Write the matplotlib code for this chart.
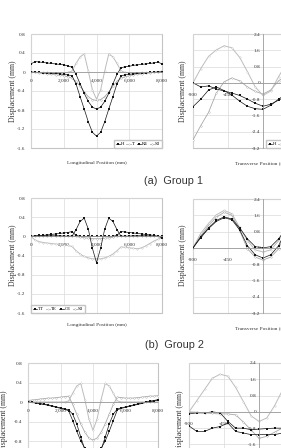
import matplotlib.pyplot as plt
from matplotlib.patches import Rectangle

W, H = 281, 448

# longitudinal stations (mm)
long_x = [0, 250, 500, 750, 1000, 1250, 1500, 1750, 2000, 2250, 2500, 2750, 3000, 3250, 3500, 3750,
          4000, 4250, 4500, 4750, 5000, 5250, 5500, 5750, 6000, 6250, 6500, 6750, 7000, 7250, 7500, 7750, 8000]
# transverse stations (mm)
trans_x = [-900, -800, -700, -600, -500, -400, -300, -200, -100, 0, 100, 200, 300, 400, 500, 600, 700, 800, 900]

# Group 1, longitudinal
g1_H = [0.17, 0.22, 0.21, 0.20, 0.19, 0.18, 0.17, 0.16, 0.15, 0.13, 0.10, -0.05, -0.25, -0.45, -0.62, -0.74,
        -0.78, -0.74, -0.62, -0.45, -0.25, -0.05, 0.09, 0.11, 0.12, 0.14, 0.15, 0.16, 0.17, 0.18, 0.19, 0.21, 0.17]
g1_T = [0.0, 0.0, -0.01, -0.01, -0.01, -0.02, -0.02, -0.02, -0.02, -0.01, 0.02, 0.18, 0.32, 0.38, 0.02, -0.38,
        -0.57, -0.38, 0.02, 0.38, 0.32, 0.18, 0.02, -0.01, -0.02, -0.02, -0.02, -0.01, -0.01, -0.01, 0.0, 0.0, 0.0]
g1_R4 = [0.0, -0.01, -0.01, -0.02, -0.02, -0.03, -0.03, -0.04, -0.05, -0.06, -0.08, -0.25, -0.52, -0.78, -1.05, -1.27,
         -1.35, -1.27, -1.05, -0.78, -0.52, -0.25, -0.08, -0.06, -0.05, -0.04, -0.03, -0.02, -0.02, -0.01, -0.01, 0.0, 0.0]
g1_S3 = [0.0, -0.01, -0.02, -0.03, -0.04, -0.05, -0.06, -0.07, -0.08, -0.10, -0.13, -0.20, -0.30, -0.42, -0.52, -0.58,
         -0.60, -0.58, -0.52, -0.42, -0.30, -0.20, -0.13, -0.10, -0.08, -0.06, -0.05, -0.04, -0.03, -0.02, -0.01, 0.0, 0.02]

# Group 2, longitudinal
g2_TT = [0.0, 0.0, 0.01, 0.01, 0.01, 0.01, 0.01, 0.01, 0.0, 0.0, 0.0, 0.14, 0.31, 0.38, 0.15, -0.25,
         -0.55, -0.25, 0.15, 0.38, 0.31, 0.14, 0.0, 0.0, 0.0, 0.01, 0.01, 0.01, 0.01, 0.01, 0.0, 0.0, 0.0]
g2_TE = [0.0, -0.08, -0.11, -0.13, -0.14, -0.15, -0.16, -0.17, -0.18, -0.19, -0.21, -0.30, -0.37, -0.42, -0.45, -0.47,
         -0.47, -0.47, -0.45, -0.42, -0.37, -0.30, -0.22, -0.23, -0.24, -0.25, -0.26, -0.24, -0.20, -0.15, -0.10, -0.06, -0.03]
g2_CE = [0.0, 0.01, 0.02, 0.02, 0.03, 0.04, 0.05, 0.06, 0.07, 0.08, 0.10, 0.02, 0.0, 0.0, 0.0, 0.0,
         0.0, 0.0, 0.0, 0.0, 0.0, 0.02, 0.10, 0.09, 0.08, 0.07, 0.06, 0.05, 0.04, 0.03, 0.02, 0.0, -0.03]
g2_S3 = [0.0, 0.0, 0.0, 0.01, 0.01, 0.01, 0.01, 0.01, 0.01, 0.01, 0.01, 0.0, -0.02, -0.03, -0.04, -0.05,
         -0.05, -0.05, -0.04, -0.03, -0.02, 0.0, 0.01, 0.01, 0.01, 0.01, 0.01, 0.01, 0.01, 0.0, 0.0, 0.0, 0.0]

# Group 3, longitudinal
g3_A = [0.0, 0.0, 0.0, 0.0, 0.0, 0.0, 0.0, 0.0, 0.0, 0.0, 0.02, 0.18, 0.33, 0.38, 0.05, -0.35,
        -0.58, -0.35, 0.05, 0.38, 0.33, 0.18, 0.02, 0.0, 0.0, 0.0, 0.0, 0.0, 0.0, 0.0, 0.0, 0.0, 0.0]
g3_B = [0.03, 0.04, 0.05, 0.06, 0.07, 0.08, 0.08, 0.09, 0.10, 0.11, 0.12, -0.05, -0.25, -0.45, -0.62, -0.74,
        -0.78, -0.74, -0.62, -0.45, -0.25, -0.05, 0.10, 0.09, 0.08, 0.08, 0.08, 0.09, 0.10, 0.11, 0.12, 0.12, 0.13]
g3_C = [0.0, -0.01, -0.02, -0.04, -0.05, -0.07, -0.09, -0.11, -0.13, -0.15, -0.18, -0.38, -0.60, -0.80, -0.95, -1.03,
        -1.06, -1.03, -0.95, -0.80, -0.60, -0.38, -0.16, -0.13, -0.11, -0.09, -0.07, -0.05, -0.03, -0.01, 0.0, 0.02, 0.04]
g3_D = [0.0, -0.01, -0.02, -0.03, -0.05, -0.06, -0.08, -0.10, -0.12, -0.14, -0.16, -0.25, -0.45, -0.72, -0.98, -1.18,
        -1.25, -1.18, -0.98, -0.72, -0.45, -0.25, -0.14, -0.12, -0.10, -0.08, -0.06, -0.04, -0.02, 0.0, 0.02, 0.03, 0.05]

# transverse profiles
t1_H = [0.0, -0.2, -0.15, -0.3, -0.4, -0.5, -0.62, -0.8, -1.0, -1.15, -1.05, -0.85, -0.65, -0.5, -0.4, -0.3, -0.15, -0.2, 0.0]
t1_T = [0.0, 0.7, 1.3, 1.62, 1.82, 1.72, 1.25, 0.55, -0.2, -0.62, -0.4, 0.3, 0.95, 1.45, 1.75, 1.6, 1.2, 0.6, 0.0]
t1_R4 = [-1.17, -0.8, -0.35, -0.2, -0.38, -0.6, -0.9, -1.15, -1.27, -1.3, -1.1, -0.8, -0.55, -0.4, -0.3, -0.2, -0.35, -0.8, -1.17]
t1_S3 = [-2.8, -2.1, -1.45, -0.5, 0.05, 0.24, 0.1, -0.2, -0.42, -0.55, -0.35, 0.1, 0.35, 0.3, 0.0, -0.5, -1.4, -2.1, -2.8]

t2_TT = [0.0, 0.55, 0.98, 1.35, 1.52, 1.42, 0.98, 0.44, 0.06, 0.0, 0.06, 0.44, 0.98, 1.42, 1.52, 1.35, 0.98, 0.55, 0.0]
t2_TE = [0.0, 0.72, 1.2, 1.62, 1.84, 1.68, 1.0, 0.35, -0.1, -0.2, -0.1, 0.35, 1.0, 1.68, 1.84, 1.62, 1.2, 0.72, 0.0]
t2_CE = [0.0, 0.5, 0.95, 1.3, 1.48, 1.38, 0.88, 0.1, -0.34, -0.5, -0.34, 0.1, 0.88, 1.38, 1.48, 1.3, 0.95, 0.5, 0.0]
t2_S3 = [0.0, 0.6, 1.1, 1.5, 1.75, 1.6, 0.85, -0.05, -0.45, -0.6, -0.45, -0.05, 0.85, 1.6, 1.75, 1.5, 1.1, 0.6, 0.0]

t3_A = [0.0, 0.55, 1.1, 1.65, 1.85, 1.75, 1.2, 0.5, -0.2, -0.47, -0.3, 0.3, 1.05, 1.6, 1.85, 1.65, 1.1, 0.55, 0.0]
t3_B = [0.0, -0.02, -0.05, -0.08, -0.1, -0.1, -0.15, -0.5, -0.9, -1.3, -1.2, -1.0, -0.8, -0.5, -0.15, -0.1, -0.08, -0.05, 0.0]
t3_C = [-0.1, -0.05, -0.05, 0.0, -0.05, -0.47, -0.8, -0.8, -0.88, -0.85, -0.82, -0.8, -0.8, -0.47, -0.05, 0.0, -0.05, -0.05, -0.1]
t3_D = [-0.69, -0.96, -0.96, -0.8, -0.72, -0.55, -0.96, -1.04, -1.12, -1.12, -1.12, -1.12, -1.04, -0.96, -0.55, -0.72, -0.8, -0.96, -0.69]

long_ticks = [0, 2000, 4000, 6000, 8000]
long_ticklabels = ["0", "2,000", "4,000", "6,000", "8,000"]
long_yticks = [-1.6, -1.2, -0.8, -0.4, 0, 0.4, 0.8]
long_yticklabels = ["-1.6", "-1.2", "-0.8", "-0.4", "0", "0.4", "0.8"]
trans_ticks = [-900, -450, 450, 900]
trans_ticklabels = ["-900", "-450", "450", "900"]
trans_yticks = [-3.2, -2.4, -1.6, -0.8, 0, 0.8, 1.6, 2.4]
trans_yticklabels = ["-3.2", "-2.4", "-1.6", "-0.8", "0", "0.8", "1.6", "2.4"]

SERIF = "Liberation Serif"
GRID = "#dadada"
FRAME = "#c4c4c4"
AXIS = "#9a9a9a"
TXT = "#333333"
BLACK = dict(color="#151515", lw=0.5, marker="s", ms=1.6, mew=0)
GRAY = dict(color="#bdbdbd", lw=0.7, marker="o", ms=1.0, mew=0.3, mfc="white")
GRAY2 = dict(color="#a8a8a8", lw=0.6, marker="o", ms=1.1, mew=0.3, mfc="white")
LEG = dict(ncol=4, prop={"family": SERIF, "size": 3.5}, handlelength=0.9, handletextpad=0.2,
           columnspacing=0.4, borderpad=0.35, fancybox=False, edgecolor=FRAME,
           framealpha=1, borderaxespad=0)

fig = plt.figure(figsize=(W / 100, H / 100), dpi=100)
fig.set_facecolor("white")


def px_box(x0, y0, x1, y1):
    return [x0 / W, 1 - y1 / H, (x1 - x0) / W, (y1 - y0) / H]


def frame(ax):
    for s in ax.spines.values():
        s.set_visible(False)
    ax.add_patch(Rectangle((0, 0), 1, 1, transform=ax.transAxes, fill=False,
                           ec=FRAME, lw=0.8, clip_on=False, zorder=0.5))
    ax.grid(True, color=GRID, lw=0.5)
    ax.set_axisbelow(True)


def add_legend(ax, series, loc, anchor):
    # legend reads H, T, R4, S3 (black, grey, black, grey)
    lines = {name: ln for ln, (_, name, _) in zip(ax.get_lines(), series)}
    order = [series[3][1], series[1][1], series[2][1], series[0][1]]
    ax.legend([lines[n] for n in order], order, loc=loc, bbox_to_anchor=anchor, **LEG)


def long_panel(box, series, legend_loc=None, legend_anchor=None):
    ax = fig.add_axes(px_box(*box))
    frame(ax)
    for vals, name, style in series:
        ax.plot(long_x, vals, label=name, **style)
    ax.set_xlim(0, 8000)
    ax.set_ylim(-1.6, 0.8)
    ax.spines["bottom"].set_visible(True)
    ax.spines["bottom"].set_position(("data", 0))
    ax.spines["bottom"].set_color(AXIS)
    ax.spines["bottom"].set_linewidth(0.6)
    ax.set_xticks(long_ticks, long_ticklabels)
    ax.set_yticks(long_yticks, long_yticklabels)
    ax.tick_params(axis="x", length=0, pad=5, labelsize=3.8, labelcolor=TXT)
    ax.tick_params(axis="y", length=0, pad=4, labelsize=3.8, labelcolor=TXT)
    for t in ax.get_xticklabels() + ax.get_yticklabels():
        t.set_family(SERIF)
    if legend_loc:
        add_legend(ax, series, legend_loc, legend_anchor)
    return ax


def trans_panel(box, series, legend_loc=None, legend_anchor=None):
    ax = fig.add_axes(px_box(*box))
    frame(ax)
    for vals, name, style in series:
        ax.plot(trans_x, vals, label=name, **style)
    ax.set_xlim(-900, 900)
    ax.set_ylim(-3.2, 2.4)
    for side in ("left", "bottom"):
        sp = ax.spines[side]
        sp.set_visible(True)
        sp.set_position(("data", 0))
        sp.set_color(AXIS)
        sp.set_linewidth(0.6)
    ax.set_xticks(trans_ticks, trans_ticklabels)
    ax.set_yticks(trans_yticks, trans_yticklabels)
    ax.tick_params(axis="x", length=0, pad=7, labelsize=3.8, labelcolor=TXT)
    ax.tick_params(axis="y", length=0, pad=2, labelsize=3.8, labelcolor=TXT)
    for t in ax.get_xticklabels() + ax.get_yticklabels():
        t.set_family(SERIF)
    if legend_loc:
        add_legend(ax, series, legend_loc, legend_anchor)
    return ax


# row 1 - Group 1
long_panel((31, 34, 162, 148),
           [(g1_S3, "S3", GRAY2), (g1_T, "T", GRAY), (g1_R4, "R4", BLACK), (g1_H, "H", BLACK)],
           legend_loc="lower right", legend_anchor=(1, 0))
trans_panel((193, 34, 333, 148),
            [(t1_S3, "S3", GRAY2), (t1_T, "T", GRAY), (t1_R4, "R4", BLACK), (t1_H, "H", BLACK)],
            legend_loc="lower left", legend_anchor=(0.52, 0))

# row 2 - Group 2
long_panel((31, 198, 162, 313),
           [(g2_S3, "S3", GRAY2), (g2_TE, "TE", GRAY), (g2_CE, "CE", BLACK), (g2_TT, "TT", BLACK)],
           legend_loc="lower left", legend_anchor=(0, 0))
trans_panel((193, 199, 333, 313),
            [(t2_S3, "S3", GRAY2), (t2_TE, "TE", GRAY), (t2_CE, "CE", BLACK), (t2_TT, "TT", BLACK)])

# row 3 - Group 3 (cut off by the page crop)
long_panel((28, 363, 158, 480),
           [(g3_B, "", GRAY2), (g3_A, "", GRAY), (g3_C, "", BLACK), (g3_D, "", BLACK)])
trans_panel((189, 363, 329, 477),
            [(t3_B, "", GRAY2), (t3_A, "", GRAY), (t3_C, "", BLACK), (t3_D, "", BLACK)])


def ftext(x, y, s, **kw):
    fig.text(x / W, 1 - y / H, s, ha="center", va="center", color=TXT, **kw)


ylab = dict(family=SERIF, size=5.6, rotation=90)
xlab = dict(family=SERIF, size=3.9)
for y in (91, 255):
    ftext(13, y, "Displacement (mm)", **ylab)
    ftext(183, y, "Displacement (mm)", **ylab)
ftext(4, 421, "Displacement (mm)", **ylab)
ftext(180, 421, "Displacement (mm)", **ylab)
ftext(97, 163, "Longitudinal Position (mm)", **xlab)
ftext(263, 163, "Transverse Position (mm)", **xlab)
ftext(97, 325, "Longitudinal Position (mm)", **xlab)
ftext(263, 328, "Transverse Position (mm)", **xlab)

cap = dict(family="Liberation Sans", size=7.8)
ftext(173, 181, "(a)  Group 1", **cap)
ftext(174, 345, "(b)  Group 2", **cap)

fig.savefig("out.png", dpi=100)
